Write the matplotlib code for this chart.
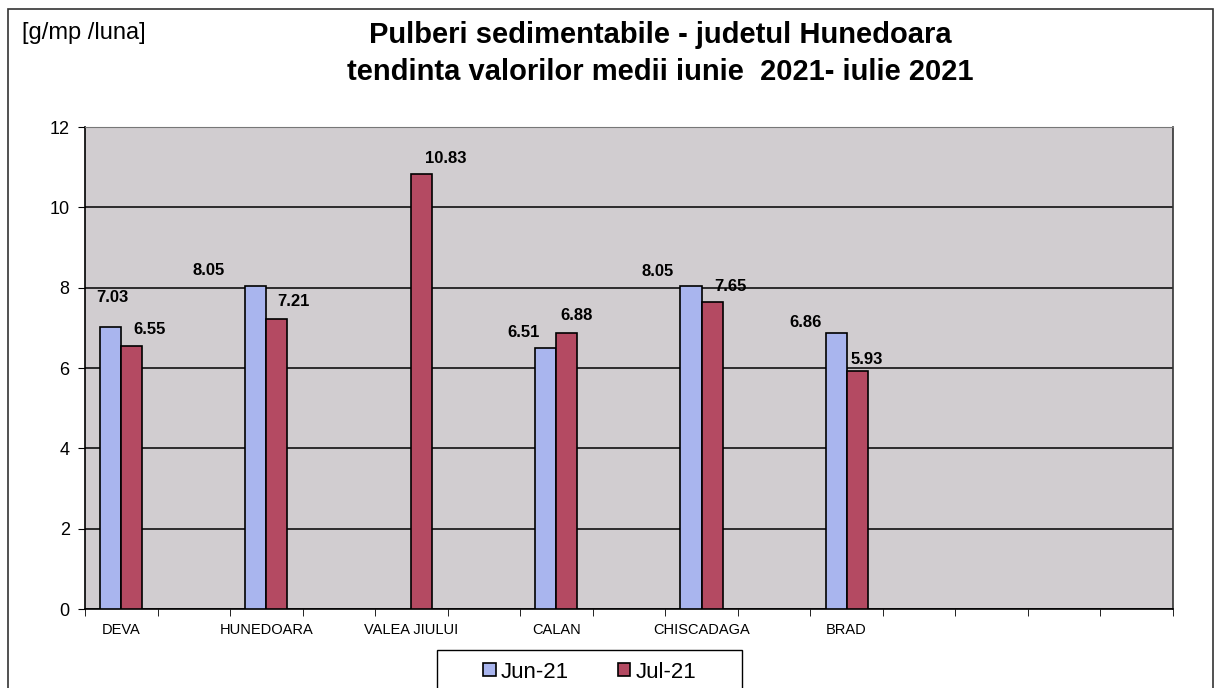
import matplotlib.pyplot as plt
import matplotlib.patches as mpatches
import numpy as np

plt.rcParams['font.family'] = ['Liberation Sans', 'DejaVu Sans']

# categories (Excel shows every second label only)
categories = ['DEVA', '', 'HUNEDOARA', '', 'VALEA JIULUI', '', 'CALAN', '',
              'CHISCADAGA', '', 'BRAD', '', '', '', '']
jun21 = [7.03, np.nan, 8.05, np.nan, np.nan, np.nan, 6.51, np.nan,
         8.05, np.nan, 6.86, np.nan, np.nan, np.nan, np.nan]
jul21 = [6.55, np.nan, 7.21, np.nan, 10.83, np.nan, 6.88, np.nan,
         7.65, np.nan, 5.93, np.nan, np.nan, np.nan, np.nan]
series_names = ['Jun-21', 'Jul-21']

# label offsets (points) copied from the scanned layout
jun_off = {0: (1, 21), 2: (-34, 11), 6: (-16, 11), 8: (-24, 10), 10: (-22, 8)}
jul_off = {0: (13, 12), 2: (12, 13), 4: (17, 11), 6: (7, 12), 8: (13, 11), 10: (7, 8)}

c_jun = '#a9b5ee'
c_jul = '#b44a62'

fig = plt.figure(figsize=(12.21, 6.88), dpi=100)
ax = fig.add_axes([0.0696, 0.1148, 0.8911, 0.7006])
ax.set_facecolor('#d1cdd0')

x = np.arange(len(categories)) + 0.5
w = 0.29
ax.bar(x - w / 2, jun21, w, color=c_jun, edgecolor='black', linewidth=1.2,
       label=series_names[0], zorder=3)
ax.bar(x + w / 2, jul21, w, color=c_jul, edgecolor='black', linewidth=1.2,
       label=series_names[1], zorder=3)

for i, v in enumerate(jun21):
    if not np.isnan(v):
        ax.annotate(f'{v:.2f}', (x[i] - w / 2, v), xytext=jun_off[i],
                    textcoords='offset points', ha='center', va='center',
                    fontsize=12, fontweight='bold')
for i, v in enumerate(jul21):
    if not np.isnan(v):
        ax.annotate(f'{v:.2f}', (x[i] + w / 2, v), xytext=jul_off[i],
                    textcoords='offset points', ha='center', va='center',
                    fontsize=12, fontweight='bold')

ax.set_xlim(0, len(categories))
ax.set_ylim(0, 12)
ax.set_yticks(range(0, 13, 2))
ax.yaxis.grid(True, color='black', linewidth=1.1, zorder=1)
ax.set_axisbelow(True)
ax.tick_params(axis='y', labelsize=13, length=5, direction='out', pad=6)

ax.set_xticks(x)
ax.set_xticklabels(categories, fontsize=10.5)
ax.tick_params(axis='x', length=0, pad=10)
ax.set_xticks(np.arange(0, len(categories) + 1), minor=True)
ax.tick_params(axis='x', which='minor', length=5, direction='out')

for s in ['left', 'bottom', 'right']:
    ax.spines[s].set_linewidth(1.2)
ax.spines['top'].set_color('#777777')
ax.spines['right'].set_color('#333333')

# legend entries centred in an Excel-style box
leg = fig.legend(loc='center', bbox_to_anchor=(590 / 1221, 1 - 672 / 688),
                 ncol=2, fontsize=16, frameon=False,
                 handlelength=0.55, handleheight=0.55,
                 handletextpad=0.25, columnspacing=2.2)
fig.patches.append(mpatches.Rectangle((437 / 1221, -0.05), 305 / 1221, 0.05 + 38 / 688,
                                      transform=fig.transFigure, fill=False,
                                      edgecolor='black', linewidth=1.0))

fig.text(660 / 1221, 1 - 35 / 688, 'Pulberi sedimentabile - judetul Hunedoara',
         ha='center', va='center', fontsize=21, fontweight='bold')
fig.text(660 / 1221, 1 - 72 / 688, 'tendinta valorilor medii iunie  2021- iulie 2021',
         ha='center', va='center', fontsize=21, fontweight='bold')
fig.text(22 / 1221, 1 - 33 / 688, '[g/mp /luna]', ha='left', va='center',
         fontsize=17)

fig.patches.append(mpatches.Rectangle((8 / 1221, -0.05), 1205 / 1221, 1.05 - 9 / 688,
                                      transform=fig.transFigure, fill=False,
                                      edgecolor='#333333', linewidth=1.2))

fig.savefig('out.png', dpi=100)
